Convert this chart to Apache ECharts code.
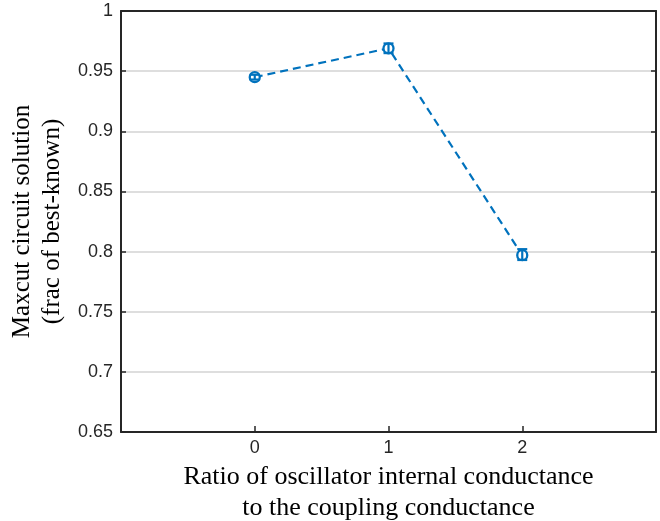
<!DOCTYPE html>
<html>
<head>
<meta charset="utf-8">
<script src="https://cdn.jsdelivr.net/npm/echarts@6/dist/echarts.min.js"></script>
<style>
  html, body { margin: 0; padding: 0; background: #fff; }
  #chart { width: 660px; height: 521px; }
</style>
</head>
<body>
<div id="chart"></div>
<script>
    // data
    const ratios = [0, 1, 2];
    const solution = [0.945, 0.969, 0.797];
    const errLow = [0.943, 0.965, 0.793];
    const errHigh = [0.947, 0.973, 0.802];
    const yTicks = [0.65, 0.7, 0.75, 0.8, 0.85, 0.9, 0.95, 1];

    const blue = '#0072BD';
    const axisColor = '#262626';

    let myChart = echarts.init(document.getElementById('chart'));

    const lineData = ratios.map((r, i) => [r, solution[i]]);
    const errData = ratios.map((r, i) => [r, errLow[i], errHigh[i]]);

    myChart.setOption({
        animation: false,
        grid: {
            left: 121,
            right: 4,
            top: 11,
            bottom: 89,
            containLabel: false,
            outerBoundsMode: 'none'
        },
        xAxis: [{
            type: 'value',
            min: -1,
            max: 3,
            interval: 1,
            axisLine: {show: true, onZero: false, lineStyle: {color: axisColor, width: 2}},
            axisTick: {show: true, inside: true, length: 6, lineStyle: {color: axisColor, width: 1.5}},
            splitLine: {show: false},
            axisLabel: {
                color: axisColor,
                fontFamily: 'Liberation Sans',
                fontSize: 18,
                margin: 7,
                formatter: function (v) {
                    return ratios.indexOf(v) >= 0 ? String(v) : '';
                }
            },
            name: 'Ratio of oscillator internal conductance\nto the coupling conductance',
            nameLocation: 'middle',
            nameGap: 30,
            nameTextStyle: {
                color: '#000',
                fontFamily: 'Liberation Serif',
                fontSize: 26,
                lineHeight: 31
            }
        }, {
            type: 'value',
            position: 'top',
            min: -1,
            max: 3,
            interval: 1,
            axisLine: {show: true, onZero: false, lineStyle: {color: axisColor, width: 2}},
            axisTick: {show: false},
            axisLabel: {show: false},
            splitLine: {show: false}
        }],
        yAxis: [{
            type: 'value',
            min: 0.65,
            max: 1,
            interval: 0.05,
            axisLine: {show: true, onZero: false, lineStyle: {color: axisColor, width: 2}},
            axisTick: {show: true, inside: true, length: 5, lineStyle: {color: axisColor, width: 1.5}},
            splitLine: {show: true, lineStyle: {color: '#dedede', width: 2}},
            axisLabel: {
                color: axisColor,
                fontFamily: 'Liberation Sans',
                fontSize: 18,
                margin: 8,
                formatter: function (v) {
                    let t = yTicks.find(k => Math.abs(k - v) < 1e-6);
                    return t === undefined ? '' : String(t);
                }
            },
            name: 'Maxcut circuit solution\n(frac of best-known)',
            nameLocation: 'middle',
            nameGap: 50,
            nameTextStyle: {
                color: '#000',
                fontFamily: 'Liberation Serif',
                fontSize: 25,
                lineHeight: 30
            }
        }, {
            type: 'value',
            position: 'right',
            min: 0.65,
            max: 1,
            interval: 0.05,
            axisLine: {show: true, onZero: false, lineStyle: {color: axisColor, width: 2}},
            axisTick: {show: true, inside: true, length: 5, lineStyle: {color: axisColor, width: 1.5}},
            axisLabel: {show: false},
            splitLine: {show: false}
        }],
        series: [
            {
                name: 'solution',
                type: 'line',
                data: lineData,
                symbol: 'circle',
                symbolSize: 10,
                itemStyle: {color: '#fff', borderColor: blue, borderWidth: 2.3},
                lineStyle: {color: blue, width: 2.2, type: [8, 5]},
                z: 3
            },
            {
                name: 'error',
                type: 'custom',
                data: errData,
                renderItem: function (params, api) {
                    const x = api.value(0);
                    const lo = api.coord([x, api.value(1)]);
                    const hi = api.coord([x, api.value(2)]);
                    const cap = 5;
                    const style = {stroke: blue, lineWidth: 2.2, fill: null};
                    return {
                        type: 'group',
                        children: [
                            {type: 'line', shape: {x1: lo[0], y1: lo[1], x2: hi[0], y2: hi[1]}, style: style},
                            {type: 'line', shape: {x1: lo[0] - cap, y1: lo[1], x2: lo[0] + cap, y2: lo[1]}, style: style},
                            {type: 'line', shape: {x1: hi[0] - cap, y1: hi[1], x2: hi[0] + cap, y2: hi[1]}, style: style}
                        ]
                    };
                },
                z: 4
            }
        ]
    });
</script>
</body>
</html>
